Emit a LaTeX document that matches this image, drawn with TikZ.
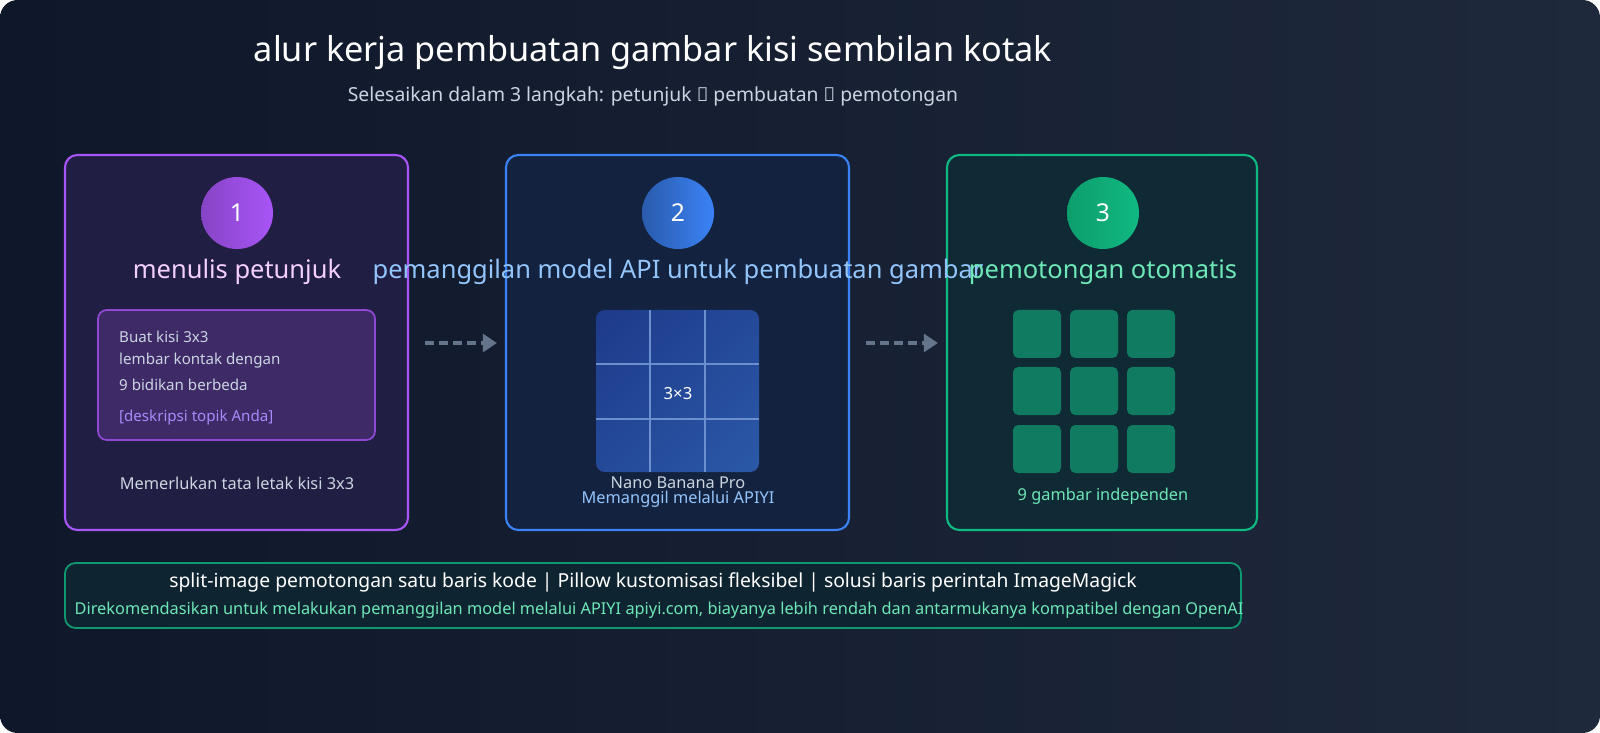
\documentclass[tikz,border=0pt]{standalone}
\usepackage{fontspec}
\setmainfont{Noto Sans}
\usetikzlibrary{arrows.meta,shadings}
\definecolor{bgA}{HTML}{0F172A}
\definecolor{bgB}{HTML}{1E293B}
\definecolor{purp}{HTML}{A855F7}
\definecolor{blu}{HTML}{3B82F6}
\definecolor{grn}{HTML}{10B981}
\definecolor{sub}{HTML}{CBD5E1}
\definecolor{arr}{HTML}{64748B}
\definecolor{pinkT}{HTML}{F5D0FE}
\definecolor{bluT}{HTML}{93C5FD}
\definecolor{grnT}{HTML}{6EE7B7}
\definecolor{lav}{HTML}{A78BFA}
\definecolor{gridA}{HTML}{1E3A8A}
\definecolor{gridB}{HTML}{2B58A8}
\tikzset{
 card/.style={rounded corners=7pt, line width=1.2pt},
 stitle/.style={font=\fontsize{14.5}{16}\selectfont},
 small/.style={font=\fontsize{8.6}{10}\selectfont},
 flow/.style={arr, line width=2pt, dash pattern=on 5pt off 3pt, -{Triangle[length=8pt,width=10pt]}},
 num/.style={circle, minimum size=72*0.02cm, text=white, font=\fontsize{14}{16}\selectfont\bfseries, inner sep=0},
 sq/.style={fill=grn!62!bgA, rounded corners=3pt},
}
\begin{document}
\begin{tikzpicture}[x=0.02cm,y=-0.02cm]
\useasboundingbox (0,0) rectangle (1600,733);
\fill[white] (0,0) rectangle (1600,733);
\shade[left color=bgA, right color=bgB, rounded corners=10pt] (0,0) rectangle (1600,733);
\node[text=white, font=\fontsize{19.5}{22}\selectfont\bfseries] (title) at (653,53) {alur kerja pembuatan gambar kisi sembilan kotak};
\node[text=sub, font=\fontsize{11}{13}\selectfont] (subt) at (653,96) {Selesaikan dalam 3 langkah: petunjuk → pembuatan → pemotongan};
% cards
\draw[card, draw=purp, fill=purp!12!bgA] (65,155) rectangle (408,530);
\draw[card, draw=blu, fill=blu!10!bgA] (506,155) rectangle (849,530);
\draw[card, draw=grn, fill=grn!12!bgA] (947,155) rectangle (1257,530);
\node[num, left color=purp!80!black, right color=purp] (n1) at (237,213) {1};
\node[num, left color=blu!70!black, right color=blu] (n2) at (678,213) {2};
\node[num, left color=grn!85!black, right color=grn] (n3) at (1103,213) {3};
\node[stitle, text=pinkT] (t1) at (237,272) {menulis petunjuk};
\node[stitle, text=bluT] (t2) at (678,272) {pemanggilan model API untuk pembuatan gambar};
\node[stitle, text=grnT] (t3) at (1103,272) {pemotongan otomatis};
% step 1 content
\draw[rounded corners=5pt, draw=purp!85!black, line width=1pt, fill=purp!30!bgA] (98,310) rectangle (375,440);
\node[small, text=sub, anchor=west] (l1) at (113,337) {Buat kisi 3x3};
\node[small, text=sub, anchor=west] (l2) at (113,361) {lembar kontak dengan};
\node[small, text=sub, anchor=west] (l3) at (113,385) {9 bidikan berbeda};
\node[small, text=lav, anchor=west] (l4) at (113,418) {[deskripsi topik Anda]};
\node[small, text=sub, font=\fontsize{9.3}{11}\selectfont] (c1) at (237,483) {Memerlukan tata letak kisi 3x3};
% step 2 grid
\shade[rounded corners=5pt, upper left=gridA, lower right=gridB, upper right=gridA!50!gridB, lower left=gridA!50!gridB] (596,310) rectangle (759,472);
\draw[blu!35!white!45!gridB, line width=0.8pt] (650,310) -- (650,472) (705,310) -- (705,472) (596,364) -- (759,364) (596,419) -- (759,419);
\node[text=white, font=\fontsize{9.5}{11}\selectfont\bfseries] (g) at (678,394) {3×3};
\node[small, text=sub, font=\fontsize{9.3}{11}\selectfont] (c2a) at (678,483) {Nano Banana Pro};
\node[small, text=bluT, font=\fontsize{9.3}{11}\selectfont] (c2b) at (678,499) {Memanggil melalui APIYI};
% step 3 squares
\foreach \i/\x in {0/1013,1/1070,2/1127}{
 \foreach \j/\y in {0/310,1/367,2/425}{
  \fill[sq] (\x,\y) rectangle ++(48,48);
 }}
\node[small, text=grnT, font=\fontsize{9.3}{11}\selectfont] (c3) at (1103,496) {9 gambar independen};
% arrows
\coordinate (a1s) at (425,343); \coordinate (a1e) at (497,343);
\coordinate (a2s) at (866,343); \coordinate (a2e) at (938,343);
\draw[flow] (a1s) -- (a1e);
\draw[flow] (a2s) -- (a2e);
% bottom
\draw[rounded corners=6pt, draw=grn!80!bgA, line width=1pt, fill=grn!8!bgA] (65,563) rectangle (1241,628);
\node[text=white, font=\fontsize{11}{13}\selectfont\bfseries] (b1) at (653,582) {split-image pemotongan satu baris kode | Pillow kustomisasi fleksibel | solusi baris perintah ImageMagick};
\node[text=grnT, font=\fontsize{9.3}{11}\selectfont] (b2) at (659,610) {Direkomendasikan untuk melakukan pemanggilan model melalui APIYI apiyi.com, biayanya lebih rendah dan antarmukanya kompatibel dengan OpenAI};
\end{tikzpicture}
\end{document}
